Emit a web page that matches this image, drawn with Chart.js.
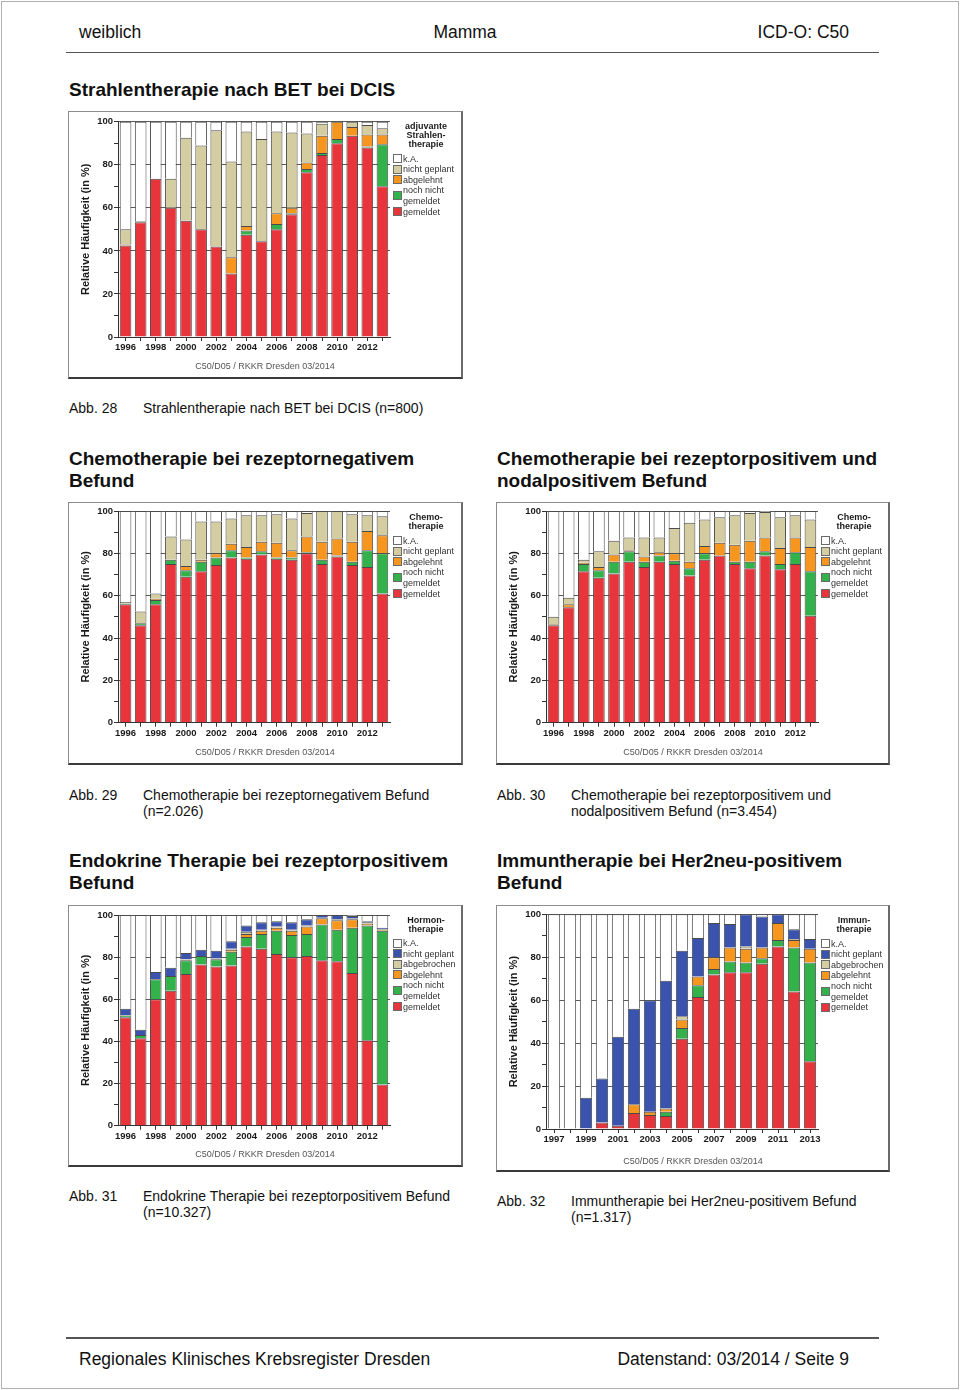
<!DOCTYPE html>
<html><head><meta charset="utf-8">
<script src="https://cdn.jsdelivr.net/npm/chart.js@4.4.1/dist/chart.umd.min.js"></script>
<style>
body{margin:0;background:#fff;}
#page{position:relative;width:960px;height:1390px;overflow:hidden;font-family:"Liberation Sans",Arial,Helvetica,sans-serif;color:#111;background:#fff;}
.t{position:absolute;white-space:nowrap;}
.frame{position:absolute;box-sizing:border-box;border:1px solid #8c8c8c;border-bottom:2px solid #3a3a3a;border-right:2px solid #6a6a6a;pointer-events:none;}
.wrap{position:absolute;}
.sw{position:absolute;box-sizing:border-box;width:9px;height:9px;border:1px solid #6a6a6a;}
</style></head><body><div id="page"></div>
<script>
// ---------------- DATA ----------------
const years9613 = ['1996','1997','1998','1999','2000','2001','2002','2003','2004','2005','2006','2007','2008','2009','2010','2011','2012','2013'];
const years9713 = ['1997','1998','1999','2000','2001','2002','2003','2004','2005','2006','2007','2008','2009','2010','2011','2012','2013'];

// Abb. 28 Strahlentherapie nach BET bei DCIS
const strahl_gemeldet     = [42.5,53.3,73.5,60,54,50,42,29.5,47.5,44.5,50,57,76.5,84.5,90,93.5,88,70];
const strahl_nochNicht    = [0,0,0,0,0,0,0,0,2,0,2.5,0.5,1.5,1,2,0,0.5,19.5];
const strahl_abgelehnt    = [0.5,0,0,0,0,0,0,7.5,2,0,5,2.5,3,8,8,4,5.5,4.5];
const strahl_nichtGeplant = [7,0.5,0,13.5,38.5,39,54,44.5,44,47.5,38,35,13.5,5.5,0,2.5,4.5,3];
const strahl_kA           = [50,46.2,26.5,26.5,7.5,11,4,18.5,4.5,8,4.5,5,5.5,1,0,0,1.5,3];

// Abb. 29 Chemotherapie bei rezeptornegativem Befund
const chemoNeg_gemeldet     = [56,46,56,75,69,71.5,74.5,78,77.5,79.5,77.5,77,80,75,78.5,74.5,73.5,61];
const chemoNeg_nochNicht    = [0.3,1,2,2,3,4.5,3.5,3.5,0.5,1.5,0.5,1,0.5,2,0.5,1.5,8,19];
const chemoNeg_abgelehnt    = [0,0,0.5,0,2,1,2,3,5,4.5,7,3.5,7.5,8.5,8,9.5,9,8.5];
const chemoNeg_nichtGeplant = [0.7,5.5,2.5,11,12.5,18,15,12,15,12.5,13.5,15,11,14.5,13,13,7.5,9];
const chemoNeg_kA           = [43,47.5,39,12,13.5,5,5,3.5,2,2,1.5,3.5,1,0,0,1.5,2,2.5];

// Abb. 30 Chemotherapie bei rezeptorpositivem und nodalpositivem Befund
const chemoPos_gemeldet     = [46,54.5,71.5,68.5,70.5,76,73.5,76,75,69.5,77,79,75,73,79,72.5,75,50.5];
const chemoPos_nochNicht    = [0,0,3.5,3.5,5.5,5,2.5,3,1.5,3.5,3,0,1,3,2,2.5,5.5,21];
const chemoPos_abgelehnt    = [0.5,1.5,0.5,1.5,3.5,0.5,2.5,1.5,3.5,3,3.5,6,8,10,6.5,7.5,7,11.5];
const chemoPos_nichtGeplant = [3.5,3,1.5,7.5,6.5,6,9,7,12,18.5,12.5,12,14,13,12,14.5,10.5,13];
const chemoPos_kA           = [50,41,23,19,14,12.5,12.5,12.5,8,5.5,4,3,2,1,0.5,3,2,4];

// Abb. 31 Endokrine Therapie bei rezeptorpositivem Befund
const hormon_gemeldet     = [51.5,41.5,60,64,72,76.5,75.5,76,85,84,81.5,80,80.5,78.5,78,72.5,40.5,19.5];
const hormon_nochNicht    = [0.8,1.5,9.5,7,6.5,4,3.5,6.5,4.5,7,11,10.5,10.5,17,15,21.5,54.5,73];
const hormon_abgelehnt    = [0,0,0,0,0.3,0,0.3,1,1.5,1.5,1.5,2,3.5,3,4.5,4,1,0.5];
const hormon_abgebrochen  = [0.2,0,0,0,0.2,0,0.2,0.5,1,0.5,0.5,0.5,0.5,0.2,0.5,0.3,0.5,0.3];
const hormon_nichtGeplant = [3,2.5,3.5,4,3,3,3.5,3.5,3,3.5,2.5,3.5,3,1.3,2,1.2,0.5,0.7];
const hormon_kA           = [44.5,54.5,27,25,18,16.5,17,12.5,5,3.5,3,3.5,2,0,0,0.5,3,6];

// Abb. 32 Immuntherapie bei Her2neu-positivem Befund
const immun_gemeldet     = [0,0,0,3,1.5,7.5,6.5,6,42,61.5,72,73,73,77,85,64,31.5];
const immun_nochNicht    = [0,0,0,0,0,0,0,2,5,5.5,2.5,5,4.5,2.5,3,20.5,46];
const immun_abgelehnt    = [0,0,0,0,0,4,1.5,1.5,4,4,5.5,6.5,6.5,5,8,3.5,6.5];
const immun_abgebrochen  = [0,0,0,0,0,0,0,0,1.5,0,0,0,1,0,0,0.5,0];
const immun_nichtGeplant = [0,0,14.5,20.5,41.5,44.5,52,59.5,30.5,18,16,11,15,14.5,4,4.5,4.5];
const immun_kA           = [100,100,85.5,76.5,57,44,40,31,17,11,4,4.5,0,1,0,7,11.5];

const yTickLabels = ['0','20','40','60','80','100'];
// ---------------------------------------

const FONT = '"Liberation Sans", Arial, Helvetica, sans-serif';
const C = {red:'#e8353c', green:'#33b24b', orange:'#f6961e', khaki:'#d5cda2', blue:'#3953ae', white:'#ffffff'};
const page = document.getElementById('page');

function txt(s, x, yc, opt={}) {
  const d = document.createElement('div');
  d.className = 't';
  const size = opt.size || 14, lh = opt.lh || Math.round(size*1.25);
  d.style.fontSize = size + 'px';
  d.style.lineHeight = lh + 'px';
  d.style.top = (yc - lh/2) + 'px';
  if (opt.bold) d.style.fontWeight = 'bold';
  if (opt.color) d.style.color = opt.color;
  d.textContent = s;
  if (opt.align === 'right') { d.style.right = (960 - x) + 'px'; }
  else if (opt.align === 'center') { d.style.left = (x - 300) + 'px'; d.style.width = '600px'; d.style.textAlign = 'center'; }
  else d.style.left = x + 'px';
  page.appendChild(d);
  return d;
}
function hline(x1, x2, y, w, col) {
  const d = document.createElement('div');
  d.style.cssText = `position:absolute;left:${x1}px;top:${y - w/2}px;width:${x2-x1}px;height:${w}px;background:${col};`;
  page.appendChild(d);
}

// page frame
const pf = document.createElement('div');
pf.style.cssText = 'position:absolute;left:1px;top:1px;width:958px;height:1388px;box-sizing:border-box;border:1px solid #b0b0b0;';
page.appendChild(pf);

// header / footer
txt('weiblich', 79, 32, {size:17.5});
txt('Mamma', 465, 32, {size:17.5, align:'center'});
txt('ICD-O: C50', 849, 32, {size:17.5, align:'right'});
hline(66, 879, 52.5, 1.5, '#555');
hline(66, 879, 1338, 1.5, '#555');
txt('Regionales Klinisches Krebsregister Dresden', 79, 1359, {size:17.5});
txt('Datenstand: 03/2014 / Seite 9', 849, 1359, {size:17.5, align:'right'});

// section titles
txt('Strahlentherapie nach BET bei DCIS', 69, 90, {size:19, bold:true});
txt('Chemotherapie bei rezeptornegativem', 69, 459, {size:19, bold:true});
txt('Befund', 69, 481, {size:19, bold:true});
txt('Chemotherapie bei rezeptorpositivem und', 497, 459, {size:19, bold:true});
txt('nodalpositivem Befund', 497, 481, {size:19, bold:true});
txt('Endokrine Therapie bei rezeptorpositivem', 69, 861, {size:19, bold:true});
txt('Befund', 69, 883, {size:19, bold:true});
txt('Immuntherapie bei Her2neu-positivem', 497, 861, {size:19, bold:true});
txt('Befund', 497, 883, {size:19, bold:true});

// captions
txt('Abb. 28', 69, 408, {size:14});
txt('Strahlentherapie nach BET bei DCIS (n=800)', 143, 408, {size:14});
txt('Abb. 29', 69, 795, {size:14});
txt('Chemotherapie bei rezeptornegativem Befund', 143, 795, {size:14});
txt('(n=2.026)', 143, 811, {size:14});
txt('Abb. 30', 497, 795, {size:14});
txt('Chemotherapie bei rezeptorpositivem und', 571, 795, {size:14});
txt('nodalpositivem Befund (n=3.454)', 571, 811, {size:14});
txt('Abb. 31', 69, 1196, {size:14});
txt('Endokrine Therapie bei rezeptorpositivem Befund', 143, 1196, {size:14});
txt('(n=10.327)', 143, 1212, {size:14});
txt('Abb. 32', 497, 1201, {size:14});
txt('Immuntherapie bei Her2neu-positivem Befund', 571, 1201, {size:14});
txt('(n=1.317)', 571, 1217, {size:14});

const S5 = (g,n,a,ng,k) => [
  {name:'gemeldet', data:g, color:C.red},
  {name:'noch nicht\ngemeldet', data:n, color:C.green},
  {name:'abgelehnt', data:a, color:C.orange},
  {name:'nicht geplant', data:ng, color:C.khaki},
  {name:'k.A.', data:k, color:C.white}];
const S6 = (g,n,a,ab,ng,k) => [
  {name:'gemeldet', data:g, color:C.red},
  {name:'noch nicht\ngemeldet', data:n, color:C.green},
  {name:'abgelehnt', data:a, color:C.orange},
  {name:'abgebrochen', data:ab, color:C.khaki},
  {name:'nicht geplant', data:ng, color:C.blue},
  {name:'k.A.', data:k, color:C.white}];

const charts = [
  {box:{x:68,y:111,w:395,h:268}, plot:{l:118,t:121.7,r:390,b:337}, labels:years9613,
   series:S5(strahl_gemeldet,strahl_nochNicht,strahl_abgelehnt,strahl_nichtGeplant,strahl_kA),
   title:['adjuvante','Strahlen-','therapie'], titleY:126, footY:366},
  {box:{x:68,y:502,w:395,h:263}, plot:{l:118,t:511,r:390,b:722.7}, labels:years9613,
   series:S5(chemoNeg_gemeldet,chemoNeg_nochNicht,chemoNeg_abgelehnt,chemoNeg_nichtGeplant,chemoNeg_kA),
   title:['Chemo-','therapie'], titleY:517, footY:752},
  {box:{x:496,y:502,w:394,h:263}, plot:{l:546,t:511,r:818,b:722.7}, labels:years9613,
   series:S5(chemoPos_gemeldet,chemoPos_nochNicht,chemoPos_abgelehnt,chemoPos_nichtGeplant,chemoPos_kA),
   title:['Chemo-','therapie'], titleY:517, footY:752},
  {box:{x:68,y:905,w:395,h:262}, plot:{l:118,t:915,r:390,b:1125.7}, labels:years9613,
   series:S6(hormon_gemeldet,hormon_nochNicht,hormon_abgelehnt,hormon_abgebrochen,hormon_nichtGeplant,hormon_kA),
   title:['Hormon-','therapie'], titleY:919.5, footY:1154},
  {box:{x:496,y:905,w:394,h:267}, plot:{l:546,t:914.3,r:818,b:1129}, labels:years9713,
   series:S6(immun_gemeldet,immun_nochNicht,immun_abgelehnt,immun_abgebrochen,immun_nichtGeplant,immun_kA),
   title:['Immun-','therapie'], titleY:920, footY:1161},
];

const Y_W = 39, X_H = 20;

charts.forEach(cfg => {
  const {box, plot} = cfg;
  const wrap = document.createElement('div');
  wrap.className = 'wrap';
  wrap.style.cssText = `left:${box.x}px;top:${box.y}px;width:${box.w}px;height:${box.h}px;`;
  const cv = document.createElement('canvas');
  cv.width = box.w; cv.height = box.h;
  cv.style.width = box.w + 'px'; cv.style.height = box.h + 'px';
  wrap.appendChild(cv);
  page.appendChild(wrap);
  const fr = document.createElement('div');
  fr.className = 'frame';
  fr.style.cssText = `left:${box.x}px;top:${box.y}px;width:${box.w}px;height:${box.h}px;`;
  page.appendChild(fr);

  const pad = {
    left: plot.l - box.x - Y_W,
    right: box.x + box.w - plot.r,
    top: plot.t - box.y,
    bottom: box.y + box.h - plot.b - X_H
  };

  new Chart(cv, {
    type: 'bar',
    data: {
      labels: cfg.labels,
      datasets: cfg.series.map(s => ({
        label: s.name.replace('\n',' '), data: s.data,
        backgroundColor: s.color, borderColor: '#4a4a4a', borderWidth: 1,
        barPercentage: 0.77, categoryPercentage: 1
      }))
    },
    options: {
      responsive: false, animation: false, devicePixelRatio: 1,
      layout: {padding: pad},
      plugins: {legend:{display:false}, tooltip:{enabled:false}},
      scales: {
        x: {
          stacked: true,
          afterFit: s => { s.height = X_H; },
          grid: {display:true, drawOnChartArea:false, offset:false, tickLength:4, tickColor:'#333'},
          border: {display:true, color:'#333', width:1},
          ticks: {
            autoSkip:false, maxRotation:0, minRotation:0, padding:1, color:'#1a1a1a',
            font:{family:FONT, size:9.5, weight:'bold'},
            callback: function(v, i){ return i % 2 === 0 ? this.getLabelForValue(v) : ''; }
          }
        },
        y: {
          stacked: true, min: 0, max: 100,
          afterFit: s => { s.width = Y_W; },
          grid: {
            color: c => (c.tick && yTickLabels.includes(String(c.tick.value)) && c.tick.value !== 0) ? '#5a5a5a' : 'rgba(0,0,0,0)',
            tickColor: '#333', tickLength: 4, lineWidth: 1
          },
          border: {display:true, color:'#333', width:1},
          ticks: {
            stepSize: 10, padding: 1, color:'#1a1a1a',
            font:{family:FONT, size:9.5, weight:'bold'},
            callback: v => yTickLabels.includes(String(v)) ? String(v) : ''
          },
          title: {display:true, text:'Relative Häufigkeit (in %)', color:'#1a1a1a',
                  font:{family:FONT, size:11, weight:'bold'}, padding:{top:0, bottom:0}}
        }
      }
    }
  });

  // legend (HTML)
  const lx = box.x + 325, tx = box.x + 335, cx = box.x + 358;
  cfg.title.forEach((t, i) => txt(t, cx, cfg.titleY + 9*i, {size:9, lh:10, bold:true, align:'center', color:'#1a1a1a'}));
  let y = cfg.titleY + 9*(cfg.title.length - 1) + 14.5;
  const STEP = 10.6;
  cfg.series.slice().reverse().forEach(s => {
    const lines = s.name.split('\n');
    const mid = y + (lines.length - 1) * STEP / 2;
    const sw = document.createElement('div');
    sw.className = 'sw';
    sw.style.left = lx + 'px';
    sw.style.top = (mid - 4.5) + 'px';
    sw.style.background = s.color;
    page.appendChild(sw);
    lines.forEach((ln, k) => txt(ln, tx, y + k*STEP, {size:9, lh:10, color:'#333'}));
    y += lines.length * STEP;
  });

  // source line
  txt('C50/D05 / RKKR Dresden 03/2014', box.x + 197, cfg.footY, {size:9, lh:10, align:'center', color:'#555'});
});
</script>
</body></html>
